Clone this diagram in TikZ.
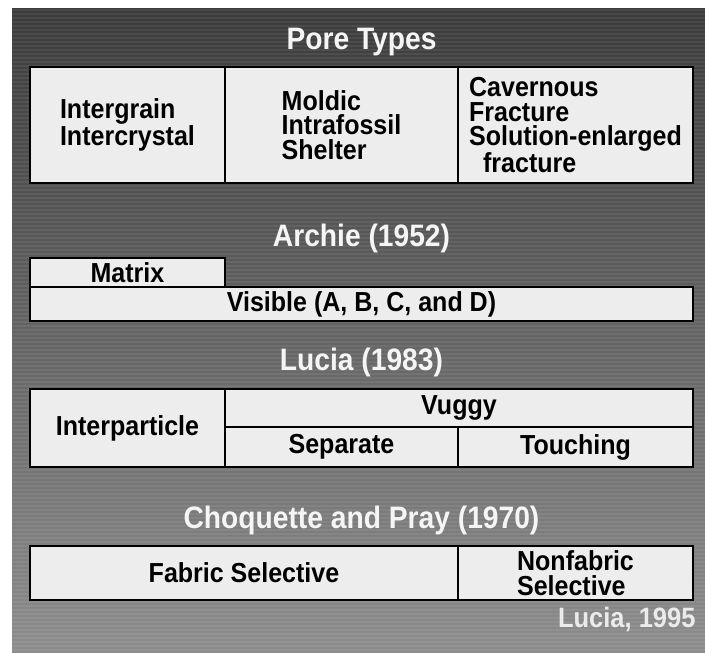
\documentclass[tikz,border=0pt]{standalone}
\usepackage{fontspec}
\setmainfont{Liberation Sans}[FakeStretch=0.91]

\begin{document}
\begin{tikzpicture}[x=1pt,y=-1pt,
  cell/.style={draw=black,line width=2.6pt,fill=black!7,inner sep=0pt,
    align=left,font=\fontsize{27.5}{24.5}\selectfont\bfseries},
  heading/.style={text=black!4,font=\fontsize{31}{32}\selectfont\bfseries}]
  \useasboundingbox (0,0) rectangle (705,653);
  \shade[top color=black!77,bottom color=black!45] (12,8) rectangle (705,653);
  \foreach \y in {10,14,...,650}
    \draw[white,opacity=0.07,line width=1.2pt] (12,\y) -- (705,\y);

  \node[heading] (poretitle) at (361.5,42) {Pore Types};
  \node[cell,minimum width=195,minimum height=116] (intergrain) at (127.5,125)
    {Intergrain\\Intercrystal};
  \node[cell,minimum width=233,minimum height=116] (moldic) at (341.5,125)
    {Moldic\\Intrafossil\\Shelter};
  \node[cell,minimum width=235,minimum height=116] (cavernous) at (575.5,125)
    {Cavernous\\Fracture\\Solution-enlarged\\\hspace*{14pt}fracture};

  \node[heading] (archietitle) at (361.5,238) {Archie (1952)};
  \node[cell,minimum width=195,minimum height=29] (matrix) at (127.5,272.5) {Matrix};
  \node[cell,minimum width=663,minimum height=34] (visible) at (361.5,304)
    {Visible (A, B, C, and D)};

  \node[heading] (luciatitle) at (361.5,362) {Lucia (1983)};
  \node[cell,minimum width=195,minimum height=78] (interparticle) at (127.5,428)
    {Interparticle};
  \node[cell,minimum width=468,minimum height=38] (vuggy) at (459,408) {Vuggy};
  \node[cell,minimum width=233,minimum height=40] (separate) at (341.5,447) {Separate};
  \node[cell,minimum width=235,minimum height=40] (touching) at (575.5,447) {Touching};

  \node[heading] (choquettetitle) at (361.5,520) {Choquette and Pray (1970)};
  \node[cell,minimum width=428,minimum height=54] (fabric) at (244,573)
    {Fabric Selective};
  \node[cell,minimum width=235,minimum height=54] (nonfabric) at (575.5,573)
    {Nonfabric\\Selective};

  \node[anchor=east,text=black!8,font=\fontsize{28}{28}\selectfont\bfseries]
    (source) at (699,620) {Lucia, 1995};
\end{tikzpicture}
\end{document}
